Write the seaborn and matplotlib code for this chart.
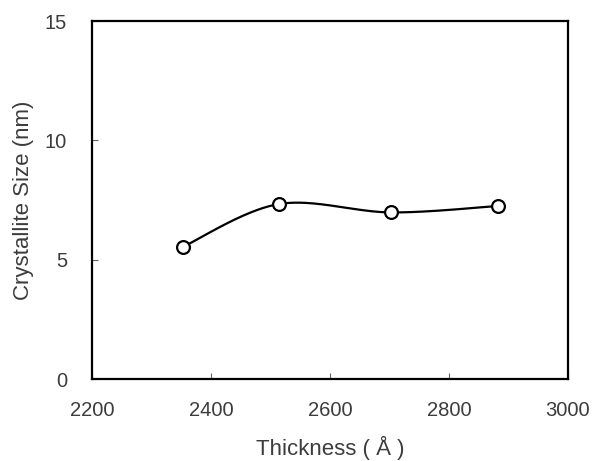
import numpy as np
import pandas as pd
import matplotlib
matplotlib.use("Agg")
import matplotlib.pyplot as plt
import seaborn as sns

# Film thickness (Angstrom) and crystallite size (nm)
thickness = [2353, 2514, 2702, 2883]
crystallite_size = [5.54, 7.33, 6.98, 7.25]
x_ticks = [2200, 2400, 2600, 2800, 3000]
y_ticks = [0, 5, 10, 15]

sns.set_theme(style="white")
plt.rcParams["font.family"] = ["Liberation Sans", "DejaVu Sans"]

fig = plt.figure(figsize=(5.95, 4.61), dpi=100)
ax = fig.add_axes([92 / 595, 1 - 379 / 461, (568 - 92) / 595, (379 - 21) / 461])

xlim = (2200, 3000)
ylim = (0, 15)


def smooth_curve(xs, ys, n=60):
    """Cubic Bezier smoothing through the points (control = P +/- (next - prev)/6),
    computed in pixel-proportional space so the curve shape is aspect-aware."""
    w, h = 568 - 92, 379 - 21
    px = (np.asarray(xs, float) - xlim[0]) / (xlim[1] - xlim[0]) * w
    py = (np.asarray(ys, float) - ylim[0]) / (ylim[1] - ylim[0]) * h
    pts = np.column_stack([px, py])
    out = []
    m = len(pts)
    for i in range(m - 1):
        p0 = pts[max(i - 1, 0)]
        p1 = pts[i]
        p2 = pts[i + 1]
        p3 = pts[min(i + 2, m - 1)]
        c1 = p1 + (p2 - p0) / 6
        c2 = p2 - (p3 - p1) / 6
        t = np.linspace(0, 1, n)[:, None]
        seg = ((1 - t) ** 3) * p1 + 3 * ((1 - t) ** 2) * t * c1 + 3 * (1 - t) * t ** 2 * c2 + t ** 3 * p2
        out.append(seg if i == 0 else seg[1:])
    c = np.vstack(out)
    cx = c[:, 0] / w * (xlim[1] - xlim[0]) + xlim[0]
    cy = c[:, 1] / h * (ylim[1] - ylim[0]) + ylim[0]
    return cx, cy


cx, cy = smooth_curve(thickness, crystallite_size)
curve = pd.DataFrame({"x": cx, "y": cy})
points = pd.DataFrame({"Thickness": thickness, "Size": crystallite_size})

sns.lineplot(data=curve, x="x", y="y", sort=False, estimator=None,
             color="black", linewidth=1.6, ax=ax)
sns.scatterplot(data=points, x="Thickness", y="Size", ax=ax, s=85,
                facecolor="white", edgecolor="black", linewidth=1.6, zorder=3)

ax.set_xlim(*xlim)
ax.set_ylim(*ylim)
ax.set_xticks(x_ticks)
ax.set_yticks(y_ticks)

text_color = "#3c3c3c"
ax.tick_params(axis="both", which="major", direction="in", length=4, width=0.8,
               color="#666666", labelsize=14.5, labelcolor=text_color,
               bottom=True, left=True, top=False, right=False)
ax.tick_params(axis="x", pad=16)
ax.tick_params(axis="y", pad=18)
for s in ax.spines.values():
    s.set_visible(True)
    s.set_color("black")
    s.set_linewidth(1.6)

ax.set_xlabel("Thickness ( Å )", fontsize=16, color=text_color, va="baseline")
ax.set_ylabel("Crystallite Size (nm)", fontsize=16, color=text_color, va="center")
ax.xaxis.set_label_coords(0.5, (379 - 455) / 358)
ax.yaxis.set_label_coords((24 - 92) / 476, 0.5)

fig.savefig("out.png", dpi=100)
